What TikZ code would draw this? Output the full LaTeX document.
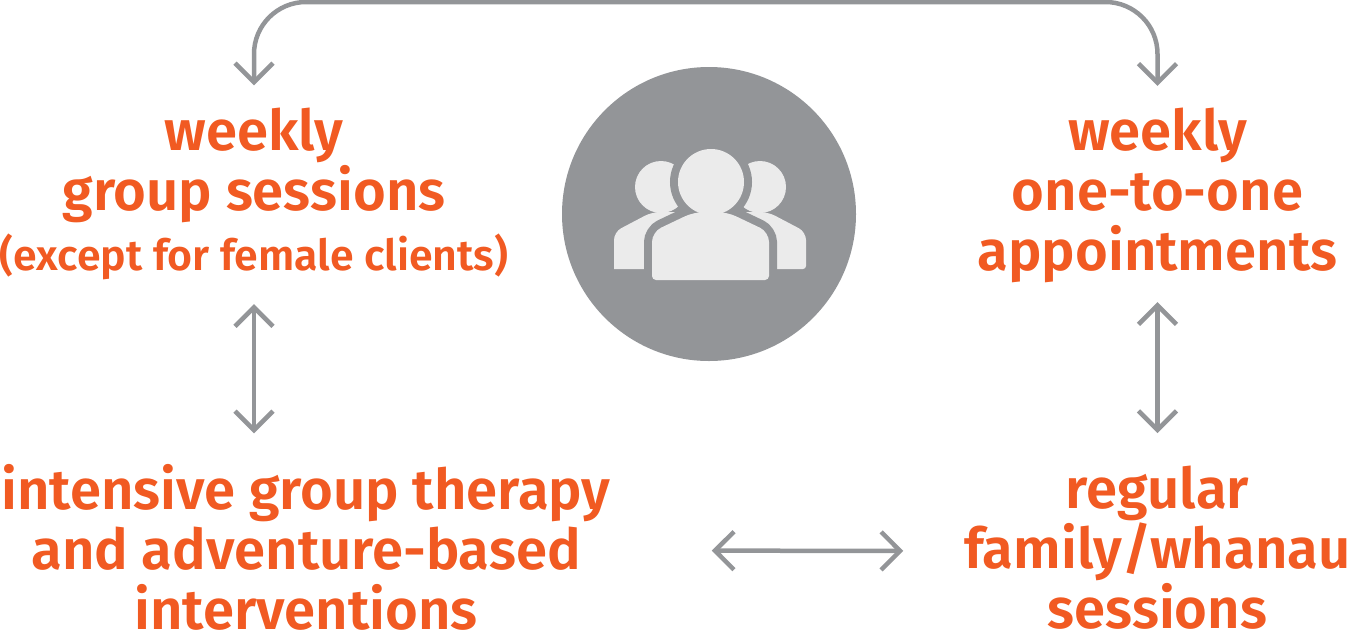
\documentclass[tikz,border=0pt]{standalone}
\usepackage{fontspec}
\setmainfont[BoldFont={Fira Sans SemiBold}]{Fira Sans}
\usepackage{tikz}
\usetikzlibrary{arrows.meta}
\definecolor{orangetxt}{HTML}{F15A22}
\definecolor{greyline}{HTML}{939598}
\definecolor{greyicon}{HTML}{EBEBEB}
\tikzset{
  lab/.style={text=orangetxt,font=\fontsize{56.2}{60}\selectfont\bfseries,align=center,inner sep=0pt},
  sublab/.style={text=orangetxt,font=\fontsize{42.8}{45}\selectfont\bfseries,inner sep=0pt},
  barb/.tip={Straight Barb[length=19pt,width=38pt,line width=4.5pt]},
  link/.style={draw=greyline,line width=4.5pt,barb-barb},
  toplink/.style={link,rounded corners=52pt},
}
\begin{document}
\begin{tikzpicture}[x=1pt,y=-1pt]
\useasboundingbox (0,0) rectangle (1347,630);
\node[circle,fill=greyline,minimum size=294pt,inner sep=0pt] (hub) at (709,214) {};
% side people
\fill[greyicon] (661,187) circle (26);
\fill[greyicon] (760,187) circle (26);
\fill[greyicon] (614,269) [rounded corners=8pt] -- (614,232) -- (652,212) -- (768,212) -- (806,232) [rounded corners=3pt] -- (806,269) [sharp corners] -- cycle;
% middle person, the grey edge cuts it out of the side people
\draw[greyline,line width=16pt,fill=greyline,rounded corners=10pt] (652,280) -- (652,232) -- (694,212) -- (727,212) -- (769,232) -- (769,280) -- cycle;
\draw[greyline,line width=16pt] (711,182) circle (33);
\fill[greyicon,rounded corners=10pt] (711,280) [rounded corners=4pt] -- (652,280) [rounded corners=10pt] -- (652,232) -- (694,212) -- (727,212) -- (769,232) [rounded corners=4pt] -- (769,280) -- cycle;
\fill[greyicon] (711,182) circle (33);
\node[lab] (weeklygroup) at (254,165) {weekly\\group sessions};
\node[sublab] (except) at (254,257) {(except for female clients)};
\node[lab] (weeklyone) at (1157.5,195.5) {weekly\\one-to-one\\appointments};
\node[lab] (intensive) at (306,547.5) {intensive group therapy\\and adventure-based\\interventions};
\node[lab] (regular) at (1157.5,548) {regular\\family/whanau\\sessions};
\coordinate (toprail) at (709,2);
\draw[toplink,shorten <=22pt,shorten >=22pt] (weeklygroup.north) -- (weeklygroup.north |- toprail) -- (weeklyone.north |- toprail) -- (weeklyone.north);
\draw[link,shorten <=24pt,shorten >=31pt] (except.south) -- (except.south |- intensive.north);
\draw[link,shorten <=19pt,shorten >=33pt] (weeklyone.south) -- (regular.north);
\draw[link,shorten <=101pt,shorten >=61pt] ([yshift=-3pt]intensive.east) -- ([yshift=-3pt]regular.west);
\end{tikzpicture}
\end{document}
